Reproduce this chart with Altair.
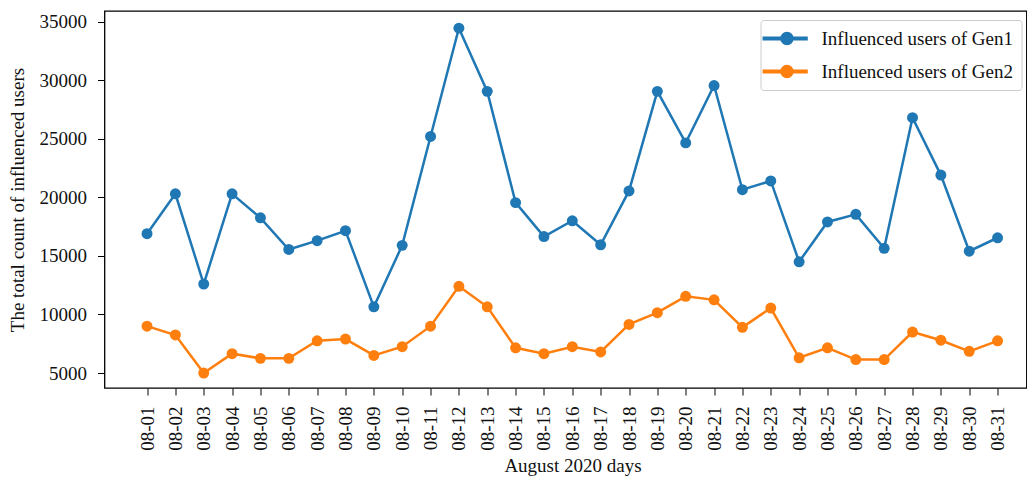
import altair as alt
import pandas as pd
import json

days = ["08-01", "08-02", "08-03", "08-04", "08-05", "08-06", "08-07", "08-08",
        "08-09", "08-10", "08-11", "08-12", "08-13", "08-14", "08-15", "08-16",
        "08-17", "08-18", "08-19", "08-20", "08-21", "08-22", "08-23", "08-24",
        "08-25", "08-26", "08-27", "08-28", "08-29", "08-30", "08-31"]

gen1 = [16900, 20300, 12600, 20300, 18250, 15550, 16300, 17150, 10650, 15900,
        25200, 34450, 29050, 19550, 16650, 18000, 15950, 20550, 29050, 24650,
        29550, 20650, 21400, 14500, 17900, 18550, 15650, 26800, 21900, 15400, 16550]

gen2 = [9000, 8250, 5000, 6650, 6250, 6250, 7750, 7900, 6500, 7250,
        9000, 12400, 10650, 7150, 6650, 7250, 6800, 9150, 10150, 11550,
        11250, 8900, 10550, 6300, 7150, 6150, 6150, 8500, 7800, 6850, 7750]

series_names = ["Influenced users of Gen1", "Influenced users of Gen2"]
series_colors = ["#1f77b4", "#ff7f0e"]
y_ticks = [5000, 10000, 15000, 20000, 25000, 30000, 35000]

rows = []
for name, vals in zip(series_names, [gen1, gen2]):
    for i, (d, v) in enumerate(zip(days, vals)):
        rows.append({"idx": i + 1, "day": d, "value": v, "series": name})
df = pd.DataFrame(rows)

FONT = "Liberation Serif"

x_enc = alt.X(
    "idx:Q",
    scale=alt.Scale(domain=[-0.5, 32.02], nice=False, zero=False),
    axis=alt.Axis(
        title="August 2020 days",
        values=list(range(1, len(days) + 1)),
        labelExpr=json.dumps(days) + "[datum.value - 1]",
        labelAngle=270,
        labelFontSize=19,
        titleFontSize=19,
        titleFontWeight="normal",
        tickSize=7,
        labelPadding=11,
        titlePadding=6,
        grid=False,
        domain=False,
        labelFlush=False,
        labelOverlap=False,
        tickColor="black",
        labelColor="#111111",
        titleColor="#111111",
        titleX=468,
    ),
)
y_enc = alt.Y(
    "value:Q",
    scale=alt.Scale(domain=[3720, 35913], nice=False, zero=False),
    axis=alt.Axis(
        title="The total count of influenced users",
        values=y_ticks,
        format="d",
        labelFontSize=19,
        titleFontSize=19,
        titleFontWeight="normal",
        tickSize=7,
        labelPadding=11,
        titlePadding=12,
        grid=False,
        domain=False,
        labelFlush=False,
        tickColor="black",
        labelColor="#111111",
        titleColor="#111111",
    ),
)

color_scale = alt.Scale(domain=series_names, range=series_colors)

sym_path = ("M-1.65,-0.13 L2.95,-0.13 L2.95,0.13 L-1.65,0.13 Z "
            "M0.21,0 A0.63,0.63 0 1,1 1.47,0 A0.63,0.63 0 1,1 0.21,0 Z")

legend = alt.Legend(
    title=None,
    orient="none",
    legendX=656,
    legendY=9,
    labelFontSize=19,
    labelLimit=400,
    labelColor="#111111",
    symbolType=sym_path,
    symbolSize=361,
    symbolOpacity=1,
    labelOffset=32,
    rowPadding=12,
    padding=8,
    strokeColor="#cccccc",
    fillColor="white",
    cornerRadius=3,
)

lines = alt.Chart(df).mark_line(strokeWidth=2.5).encode(
    x=x_enc,
    y=y_enc,
    color=alt.Color("series:N", scale=color_scale, legend=legend),
)

points = alt.Chart(df).mark_circle(size=120, opacity=1).encode(
    x=x_enc,
    y=y_enc,
    color=alt.Color("series:N", scale=color_scale, legend=legend),
)

chart = alt.layer(lines, points).properties(
    width=922,
    height=377,
    padding={"left": 7.5, "top": 11, "right": 0, "bottom": 0},
).configure(
    font=FONT,
).configure_view(
    stroke="black",
    strokeWidth=1.3,
)

chart.save("out.html", embed_options={"renderer": "svg", "actions": False})
